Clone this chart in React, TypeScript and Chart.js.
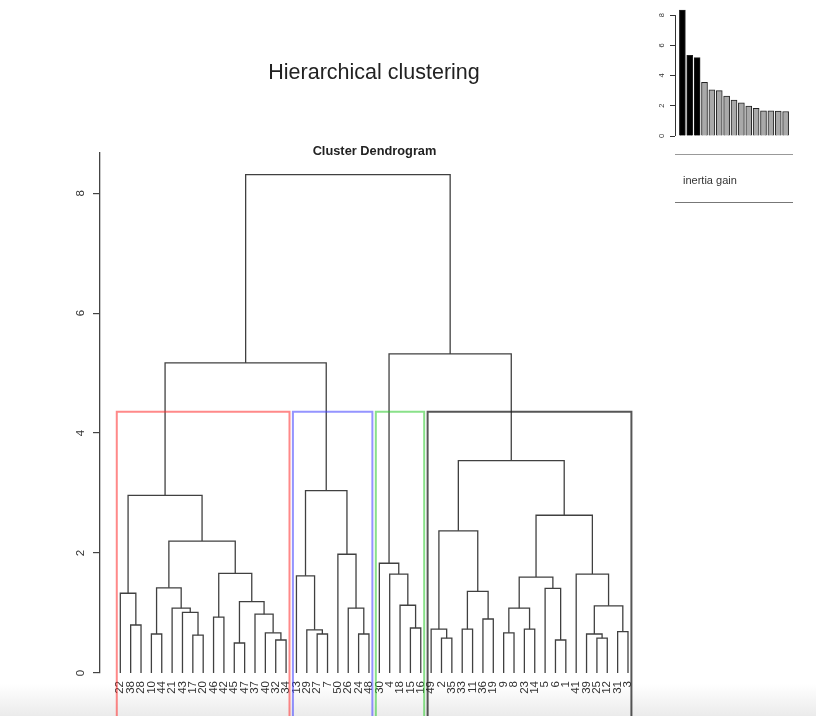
import React, { useEffect, useRef } from "react";
import { Chart, registerables } from "chart.js";

Chart.register(...registerables);

// Leaf labels in dendrogram order
const LEAVES = [
  "22", "38", "28", "10", "44", "21", "43", "17", "20", "46", "42", "45", "47", "37", "40", "32", "34",
  "13", "29", "27", "7", "50", "26", "24", "48",
  "30", "4", "18", "15", "16",
  "49", "2", "35", "33", "11", "36", "19", "9", "8", "23", "14", "5", "6", "1", "41", "39", "25", "12", "31", "3",
];

// Merge table: negative = leaf position (1-based), positive = earlier merge row (1-based); third = height
const MERGES: [number, number, number][] = [
  [-2, -3, 0.8], // 1
  [-1, 1, 1.33], // 2
  [-4, -5, 0.65], // 3
  [-8, -9, 0.63], // 4
  [-7, 4, 1.01], // 5
  [-6, 5, 1.08], // 6
  [3, 6, 1.42], // 7
  [-10, -11, 0.93], // 8
  [-12, -13, 0.5], // 9
  [-16, -17, 0.55], // 10
  [-15, 10, 0.67], // 11
  [-14, 11, 0.98], // 12
  [9, 12, 1.19], // 13
  [8, 13, 1.66], // 14
  [7, 14, 2.2], // 15
  [2, 15, 2.96], // 16
  [-20, -21, 0.65], // 17
  [-19, 17, 0.72], // 18
  [-18, 18, 1.62], // 19
  [-24, -25, 0.65], // 20
  [-23, 20, 1.08], // 21
  [-22, 21, 1.98], // 22
  [19, 22, 3.04], // 23
  [16, 23, 5.17], // 24
  [-29, -30, 0.75], // 25
  [-28, 25, 1.13], // 26
  [-27, 26, 1.65], // 27
  [-26, 27, 1.83], // 28
  [-32, -33, 0.58], // 29
  [-31, 29, 0.73], // 30
  [-34, -35, 0.73], // 31
  [-36, -37, 0.9], // 32
  [31, 32, 1.36], // 33
  [30, 33, 2.37], // 34
  [-38, -39, 0.67], // 35
  [-40, -41, 0.73], // 36
  [35, 36, 1.08], // 37
  [-43, -44, 0.55], // 38
  [-42, 38, 1.41], // 39
  [37, 39, 1.6], // 40
  [-47, -48, 0.58], // 41
  [-46, 41, 0.65], // 42
  [-49, -50, 0.69], // 43
  [42, 43, 1.12], // 44
  [-45, 44, 1.65], // 45
  [40, 45, 2.63], // 46
  [34, 46, 3.54], // 47
  [28, 47, 5.32], // 48
  [24, 48, 8.31], // 49
];

const CLUSTER_SIZES = [17, 8, 5, 20];
const CLUSTER_COLORS = ["rgba(255,40,40,0.55)", "rgba(60,60,255,0.55)", "rgba(40,200,40,0.55)", "rgba(30,30,30,0.75)"];

const Y_TICKS = [0, 2, 4, 6, 8];

// Inset bar chart (inertia gain)
const INERTIA_GAIN = [8.33, 5.33, 5.18, 3.55, 3.06, 3.0, 2.64, 2.38, 2.2, 1.98, 1.83, 1.67, 1.66, 1.65, 1.62];
const INSET_Y_TICKS = [0, 2, 4, 6, 8];
const HIGHLIGHTED_BARS = 3;

const FONT = "'Liberation Sans', Arial, Helvetica, sans-serif";
const LINE = "#404040";

function buildDendrogram() {
  const nodeX: number[] = [];
  const nodeH: number[] = [];
  const segs: { x: number; y: number }[][] = [];
  const child = (r: number) => (r < 0 ? { x: -r, h: 0 } : { x: nodeX[r - 1], h: nodeH[r - 1] });
  MERGES.forEach(([a, b, h], i) => {
    const A = child(a);
    const B = child(b);
    nodeX[i] = (A.x + B.x) / 2;
    nodeH[i] = h;
    segs.push([
      { x: A.x, y: A.h },
      { x: A.x, y: h },
      { x: B.x, y: h },
      { x: B.x, y: B.h },
    ]);
  });
  return segs;
}

function buildRects() {
  const hs = MERGES.map((m) => m[2]).sort((a, b) => b - a);
  const k = CLUSTER_SIZES.length;
  const top = (hs[k - 2] + hs[k - 1]) / 2;
  const rects: { pts: { x: number; y: number }[]; color: string }[] = [];
  let start = 0;
  CLUSTER_SIZES.forEach((n, i) => {
    const l = start + 0.66;
    const r = start + n + 0.33;
    rects.push({
      pts: [
        { x: l, y: -1.2 },
        { x: l, y: top },
        { x: r, y: top },
        { x: r, y: -1.2 },
      ],
      color: CLUSTER_COLORS[i],
    });
    start += n;
  });
  return rects;
}

export default function App() {
  const mainRef = useRef<HTMLCanvasElement>(null);
  const insetRef = useRef<HTMLCanvasElement>(null);

  useEffect(() => {
    const segs = buildDendrogram();
    const rects = buildRects();

    const rectSets = rects.map((r) => ({
      data: r.pts,
      showLine: true,
      borderColor: r.color,
      borderWidth: 2,
      pointRadius: 0,
      fill: false,
      tension: 0,
      clip: false as any,
    }));
    const dendSets = segs.map((s) => ({
      data: s,
      showLine: true,
      borderColor: LINE,
      borderWidth: 1.3,
      pointRadius: 0,
      fill: false,
      tension: 0,
    }));

    const rotYLabels = {
      id: "rotYLabels",
      afterDraw(chart: any) {
        const { ctx, scales } = chart;
        const y = scales.y;
        ctx.save();
        ctx.font = `11.5px ${FONT}`;
        ctx.fillStyle = "#333";
        ctx.textAlign = "center";
        ctx.textBaseline = "middle";
        for (const v of Y_TICKS) {
          const py = y.getPixelForValue(v);
          ctx.save();
          ctx.translate(81, py);
          ctx.rotate(-Math.PI / 2);
          ctx.fillText(String(v), 0, 0);
          ctx.restore();
        }
        ctx.restore();
      },
    };

    const main = new Chart(mainRef.current!, {
      type: "scatter",
      data: { datasets: [...rectSets, ...dendSets] as any },
      options: {
        animation: false,
        responsive: false,
        events: [],
        layout: { padding: { left: 0, top: 153, right: 167.7, bottom: 0 } },
        plugins: { legend: { display: false }, tooltip: { enabled: false }, title: { display: false } },
        scales: {
          x: {
            type: "linear",
            min: -0.96,
            max: 51.96,
            afterBuildTicks: (s: any) => {
              s.ticks = LEAVES.map((_, i) => ({ value: i + 1 }));
            },
            afterFit: (s: any) => {
              s.height = 43;
            },
            grid: { display: false, drawTicks: false },
            border: { display: false },
            ticks: {
              autoSkip: false,
              minRotation: 90,
              maxRotation: 90,
              padding: 8,
              color: "#333",
              font: { family: FONT, size: 11.5 },
              callback: (v: any) => LEAVES[Math.round(Number(v)) - 1] ?? "",
            },
          },
          y: {
            type: "linear",
            min: 0,
            max: 8.67,
            afterBuildTicks: (s: any) => {
              s.ticks = Y_TICKS.map((v) => ({ value: v }));
            },
            afterFit: (s: any) => {
              s.width = 100;
            },
            grid: { display: true, drawOnChartArea: false, drawTicks: true, tickLength: 7, color: "#444", lineWidth: 1.2 },
            border: { display: true, color: "#444", width: 1.3 },
            ticks: { display: false },
          },
        },
      } as any,
      plugins: [rotYLabels],
    });

    const insetDeco = {
      id: "insetDeco",
      afterDraw(chart: any) {
        const { ctx, scales, chartArea } = chart;
        const y = scales.y;
        ctx.save();
        ctx.strokeStyle = "#333";
        ctx.lineWidth = 1;
        ctx.beginPath();
        ctx.moveTo(chartArea.left + 0.5, y.getPixelForValue(INSET_Y_TICKS[0]));
        ctx.lineTo(chartArea.left + 0.5, y.getPixelForValue(INSET_Y_TICKS[INSET_Y_TICKS.length - 1]));
        ctx.stroke();
        ctx.font = `7.5px ${FONT}`;
        ctx.fillStyle = "#333";
        ctx.textAlign = "center";
        ctx.textBaseline = "middle";
        for (const v of INSET_Y_TICKS) {
          const py = y.getPixelForValue(v);
          ctx.save();
          ctx.translate(61.5, py);
          ctx.rotate(-Math.PI / 2);
          ctx.fillText(String(v), 0, 0);
          ctx.restore();
        }
        ctx.restore();
      },
    };

    const inset = new Chart(insetRef.current!, {
      type: "bar",
      data: {
        datasets: [
          {
            data: INERTIA_GAIN.map((v, i) => ({ x: i + 1, y: v })),
            backgroundColor: INERTIA_GAIN.map((_, i) => (i < HIGHLIGHTED_BARS ? "#000" : "#a9a9a9")),
            borderColor: "#222",
            borderWidth: 1,
            barThickness: 6,
          } as any,
        ],
      },
      options: {
        animation: false,
        responsive: false,
        events: [],
        layout: { padding: { left: 0, top: 6, right: 23, bottom: 14 } },
        plugins: { legend: { display: false }, tooltip: { enabled: false } },
        scales: {
          x: {
            type: "linear",
            min: 0,
            max: 16,
            offset: false,
            grid: { offset: false, display: false },
            display: false,
          },
          y: {
            type: "linear",
            min: 0,
            max: 8.6,
            afterBuildTicks: (s: any) => {
              s.ticks = INSET_Y_TICKS.map((v) => ({ value: v }));
            },
            afterFit: (s: any) => {
              s.width = 75;
            },
            grid: { display: true, drawOnChartArea: false, drawTicks: true, tickLength: 5, color: "#333", lineWidth: 1 },
            border: { display: false },
            ticks: { display: false },
          },
        },
      } as any,
      plugins: [insetDeco],
    });

    return () => {
      main.destroy();
      inset.destroy();
    };
  }, []);

  return (
    <div
      style={{
        position: "absolute",
        left: 0,
        top: 0,
        width: 816,
        height: 716,
        overflow: "hidden",
        background: "linear-gradient(to bottom, #ffffff 0px, #ffffff 684px, #ebebeb 716px)",
        fontFamily: FONT,
      }}
    >
      <canvas ref={mainRef} width={816} height={716} style={{ position: "absolute", left: 0, top: 0, width: 816, height: 716 }} />
      <div
        style={{
          position: "absolute",
          left: 374,
          top: 72,
          transform: "translate(-50%, -50%)",
          fontSize: 21.5,
          color: "#222",
          whiteSpace: "nowrap",
        }}
      >
        Hierarchical clustering
      </div>
      <div
        style={{
          position: "absolute",
          left: 374.5,
          top: 150,
          transform: "translate(-50%, -50%)",
          fontSize: 12.8,
          fontWeight: "bold",
          color: "#222",
          whiteSpace: "nowrap",
        }}
      >
        Cluster Dendrogram
      </div>
      <canvas ref={insetRef} width={216} height={150} style={{ position: "absolute", left: 600, top: 0, width: 216, height: 150 }} />
      <div style={{ position: "absolute", left: 675, top: 153.5, width: 118, height: 0, borderTop: "1.5px solid #999" }} />
      <div
        style={{
          position: "absolute",
          left: 683,
          top: 180,
          transform: "translateY(-50%)",
          fontSize: 11,
          color: "#333",
          whiteSpace: "nowrap",
        }}
      >
        inertia gain
      </div>
      <div style={{ position: "absolute", left: 675, top: 201.5, width: 118, height: 0, borderTop: "1.5px solid #777" }} />
    </div>
  );
}
